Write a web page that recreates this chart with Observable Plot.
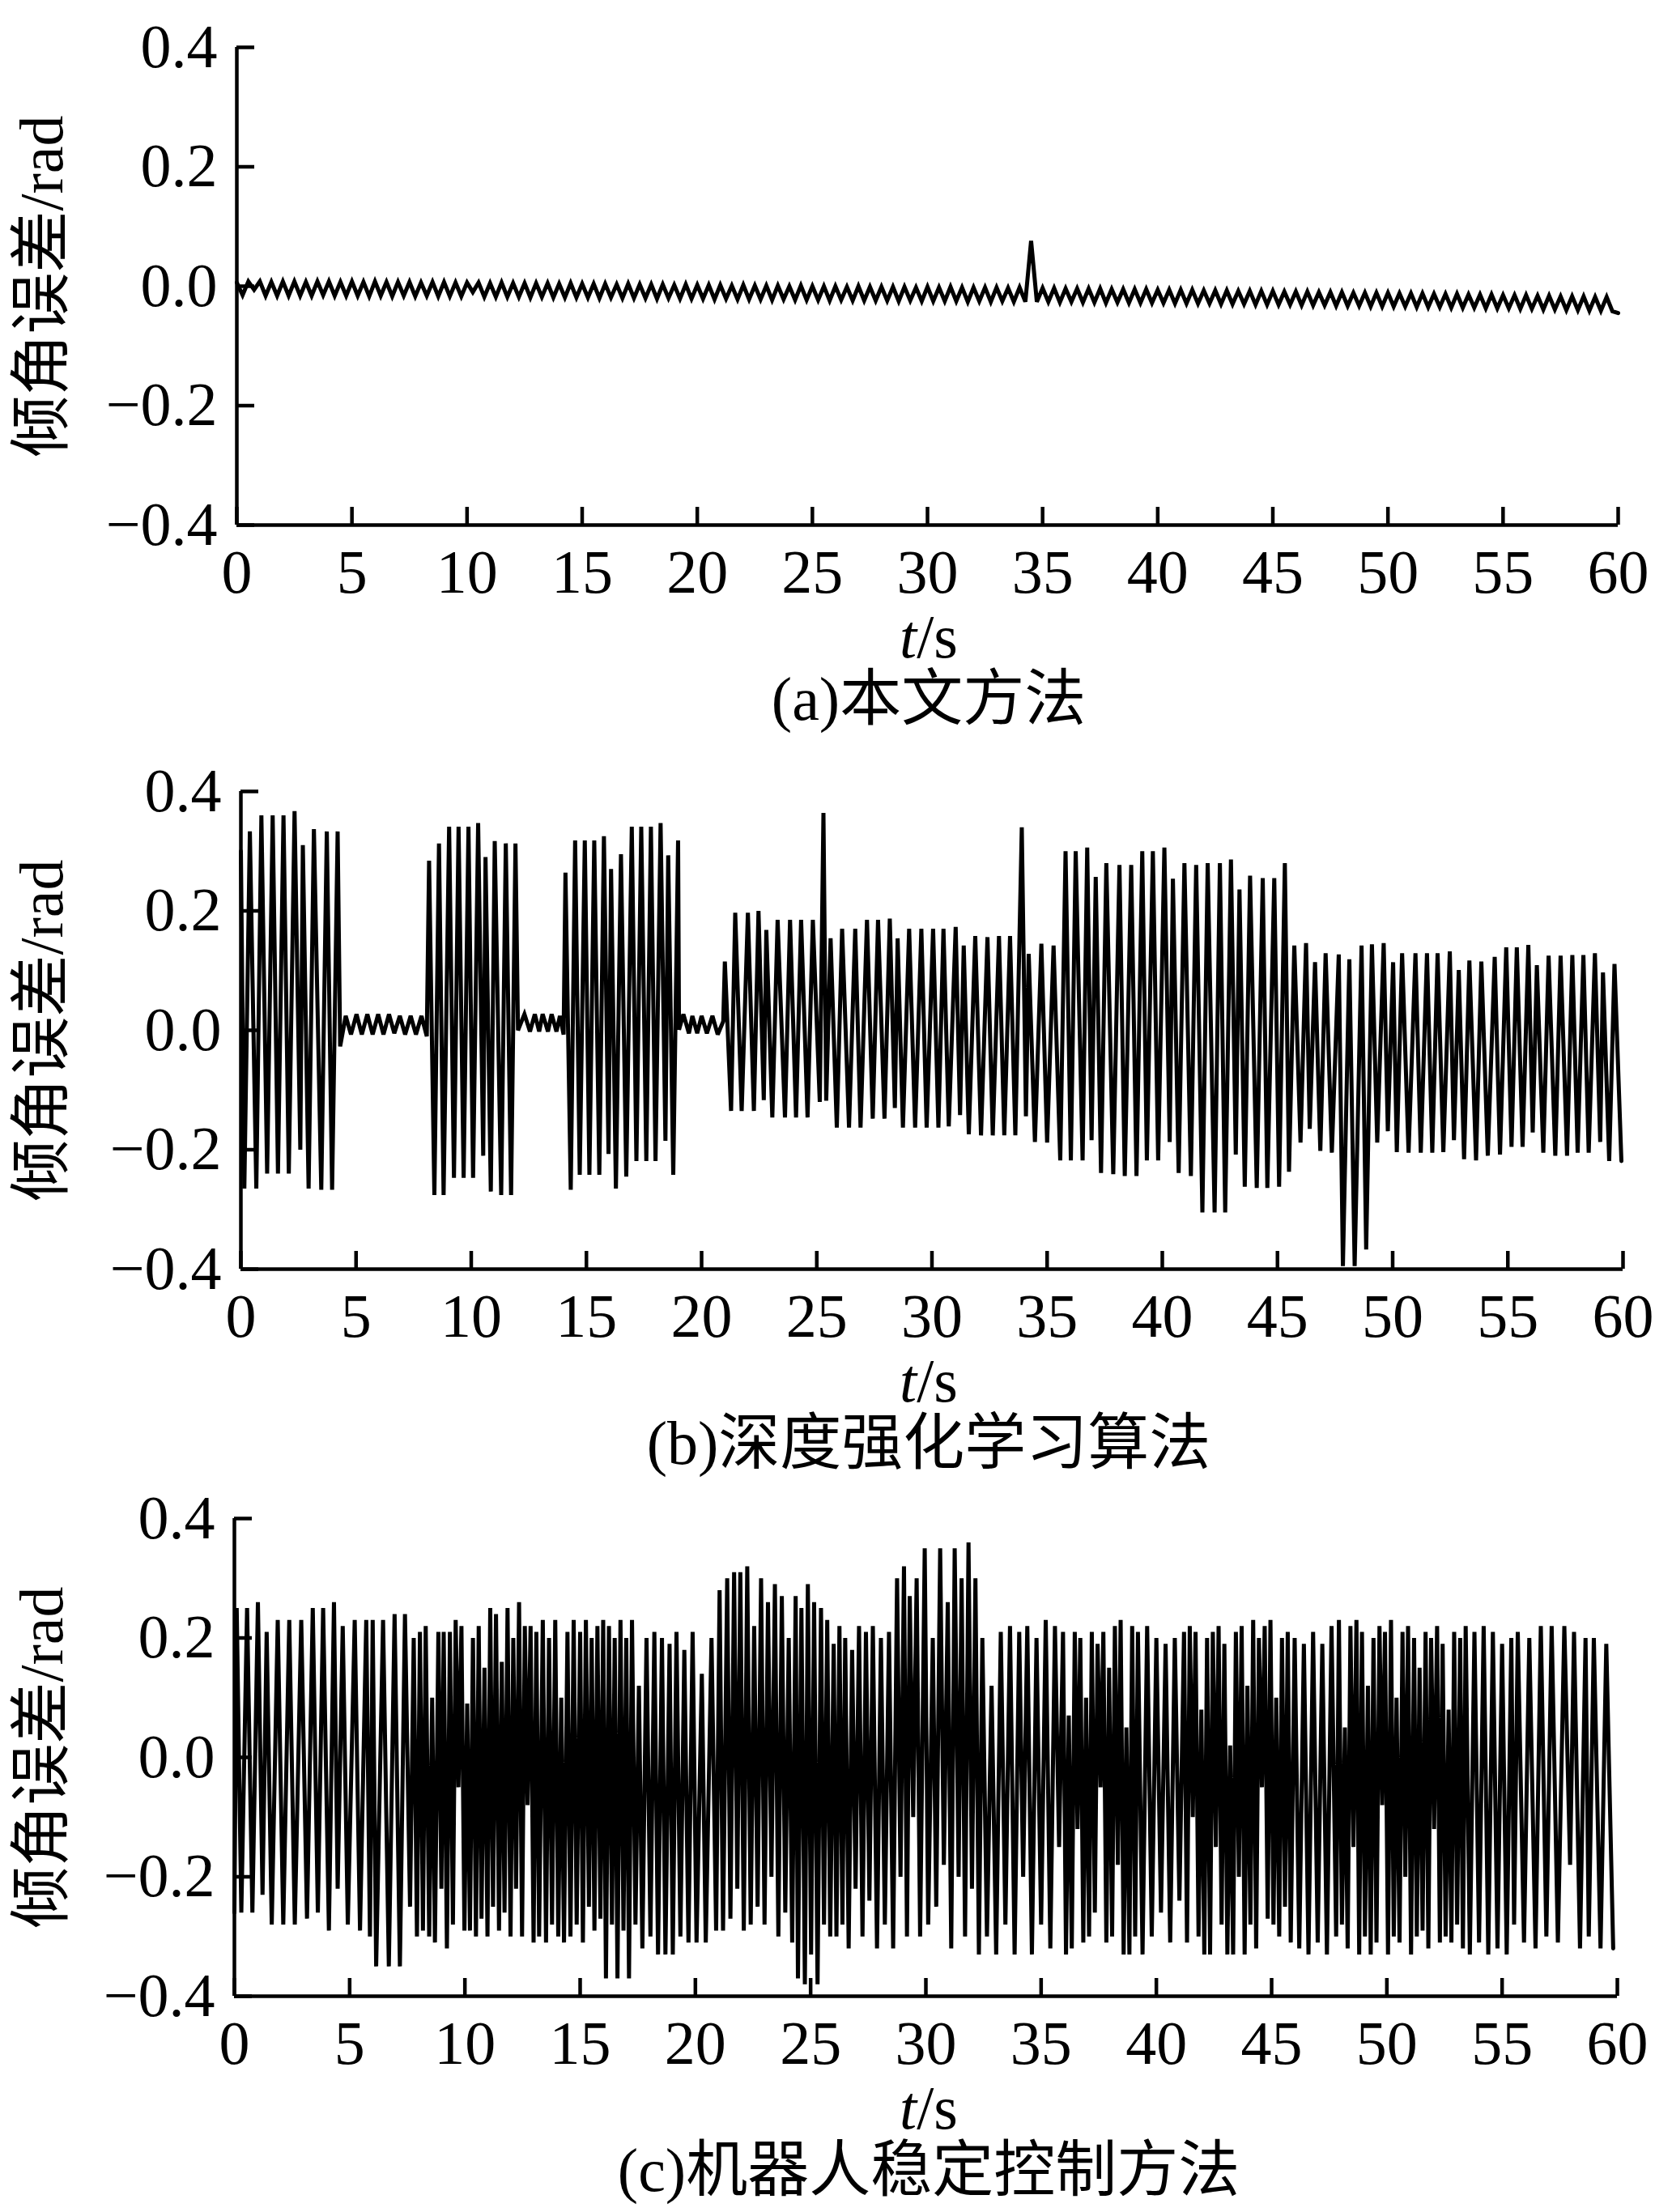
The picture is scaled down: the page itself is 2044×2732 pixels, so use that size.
<!DOCTYPE html>
<html>
<head>
<meta charset="utf-8">
<script src="https://cdn.jsdelivr.net/npm/d3@7"></script>
<script src="https://cdn.jsdelivr.net/npm/@observablehq/plot@0.6"></script>
<style>
html,body{margin:0;padding:0;background:#fff;overflow:hidden;}
#root{position:relative;width:2044px;height:2732px;background:#fff;overflow:hidden;}
.panel{position:absolute;left:0;width:2044px;}
.lab{position:absolute;left:1147px;transform:translateX(-50%);font-family:"Liberation Serif","Noto Sans CJK SC",serif;font-size:76px;line-height:76px;color:#000;white-space:nowrap;}
</style>
</head>
<body>
<div id="root"></div>
<script>
// ---------- tick labels / text ----------
const xTicks = [0, 5, 10, 15, 20, 25, 30, 35, 40, 45, 50, 55, 60];
const yTicks = [-0.4, -0.2, 0, 0.2, 0.4];
const yLabel = "倾角误差/rad";
const captions = ["(a)本文方法", "(b)深度强化学习算法", "(c)机器人稳定控制方法"];

// ---------- (a) 本文方法 : sampled every dtA seconds ----------
const dtA = 0.25;
const valuesA = [
  0.006,-0.015,0.008,-0.006,0.008,-0.016,0.007,-0.016,0.008,-0.016,
  0.008,-0.016,0.007,-0.016,0.008,-0.015,0.008,-0.016,0.007,-0.016,
  0.008,-0.016,0.007,-0.017,0.008,-0.016,0.007,-0.017,0.007,-0.016,
  0.007,-0.017,0.006,-0.016,0.007,-0.017,0.007,-0.017,0.006,-0.017,
  0.006,-0.010,0.006,-0.018,0.005,-0.018,0.006,-0.018,0.005,-0.018,
  0.005,-0.019,0.005,-0.018,0.005,-0.019,0.004,-0.019,0.005,-0.019,
  0.004,-0.019,0.004,-0.020,0.004,-0.019,0.003,-0.020,0.004,-0.020,
  0.003,-0.020,0.003,-0.021,0.003,-0.020,0.002,-0.021,0.003,-0.021,
  0.002,-0.021,0.002,-0.022,0.002,-0.021,0.001,-0.022,0.002,-0.022,
  0.001,-0.022,0.001,-0.023,0.001,-0.022,0.000,-0.023,0.001,-0.023,
  0.000,-0.023,0.000,-0.024,0.000,-0.023,-0.001,-0.024,0.000,-0.024,
  -0.001,-0.024,-0.001,-0.024,-0.001,-0.025,-0.001,-0.024,-0.002,-0.025,
  -0.001,-0.025,-0.002,-0.025,-0.001,-0.025,-0.002,-0.026,-0.002,-0.025,
  -0.002,-0.026,-0.002,-0.025,-0.003,-0.026,-0.002,-0.026,0.076,-0.026,
  -0.003,-0.026,-0.003,-0.027,-0.004,-0.026,-0.004,-0.027,-0.004,-0.027,
  -0.004,-0.028,-0.005,-0.027,-0.005,-0.028,-0.005,-0.028,-0.005,-0.028,
  -0.006,-0.028,-0.006,-0.029,-0.006,-0.029,-0.006,-0.029,-0.007,-0.029,
  -0.007,-0.030,-0.007,-0.030,-0.008,-0.030,-0.008,-0.031,-0.008,-0.031,
  -0.008,-0.031,-0.009,-0.031,-0.009,-0.032,-0.009,-0.032,-0.010,-0.032,
  -0.010,-0.033,-0.010,-0.033,-0.011,-0.033,-0.011,-0.034,-0.011,-0.034,
  -0.011,-0.034,-0.012,-0.034,-0.012,-0.035,-0.012,-0.035,-0.013,-0.035,
  -0.013,-0.036,-0.013,-0.036,-0.014,-0.036,-0.014,-0.037,-0.014,-0.037,
  -0.015,-0.037,-0.015,-0.038,-0.015,-0.038,-0.016,-0.039,-0.016,-0.039,
  -0.017,-0.040,-0.017,-0.040,-0.017,-0.041,-0.018,-0.041,-0.018,-0.042,
  -0.045
];

// ---------- (b) 深度强化学习算法 : [t, value] vertices ----------
const seriesB = [
  [0.00,0.30],[0.15,-0.265],[0.39,0.333],[0.67,-0.265],[0.89,0.36],[1.14,-0.24],[1.38,0.36],[1.61,-0.24],
  [1.85,0.36],[2.08,-0.24],[2.33,0.367],[2.58,-0.20],[2.69,0.31],[2.94,-0.265],[3.17,0.337],[3.49,-0.267],
  [3.73,0.333],[3.96,-0.267],[4.20,0.333],[4.31,-0.027],
  [4.55,0.024],[4.78,-0.007],[5.02,0.027],[5.25,-0.007],[5.49,0.027],[5.72,-0.007],[5.96,0.027],[6.19,-0.007],
  [6.43,0.027],[6.66,-0.005],[6.90,0.024],[7.13,-0.007],[7.37,0.024],[7.60,-0.007],[7.84,0.024],[8.07,-0.010],
  [8.17,0.284],[8.40,-0.276],[8.60,0.313],[8.80,-0.276],[9.04,0.341],[9.25,-0.247],[9.45,0.341],[9.67,-0.247],
  [9.88,0.341],[10.08,-0.247],[10.30,0.347],[10.52,-0.21],[10.62,0.29],[10.85,-0.27],[11.02,0.317],[11.30,-0.276],
  [11.50,0.313],[11.73,-0.276],[11.92,0.313],[12.03,0.0],
  [12.31,0.027],[12.55,-0.002],[12.76,0.027],[12.95,-0.002],[13.10,0.027],[13.33,-0.002],[13.49,0.027],[13.70,-0.002],
  [13.85,0.024],[14.01,-0.007],
  [14.09,0.264],[14.32,-0.267],[14.51,0.318],[14.71,-0.242],[14.93,0.318],[15.13,-0.242],[15.34,0.318],[15.56,-0.242],
  [15.76,0.325],[15.96,-0.207],[16.07,0.27],[16.28,-0.265],[16.50,0.295],[16.73,-0.245],[16.97,0.341],[17.17,-0.219],
  [17.38,0.341],[17.60,-0.219],[17.80,0.341],[18.00,-0.219],[18.22,0.347],[18.43,-0.185],[18.55,0.293],[18.77,-0.242],
  [18.98,0.318],[19.02,0.001],
  [19.21,0.027],[19.45,-0.005],[19.60,0.024],[19.81,-0.005],[20.00,0.024],[20.23,-0.005],[20.47,0.024],[20.70,-0.007],
  [20.94,0.015],
  [21.01,0.115],[21.28,-0.135],[21.46,0.197],[21.74,-0.135],[22.01,0.197],[22.27,-0.135],[22.47,0.20],[22.70,-0.117],
  [22.81,0.168],[23.07,-0.146],[23.30,0.185],[23.62,-0.146],[23.84,0.185],[24.10,-0.146],[24.32,0.185],[24.60,-0.146],
  [24.83,0.185],[25.13,-0.12],[25.29,0.364],[25.41,-0.118],
  [25.60,0.154],[25.87,-0.163],[26.10,0.170],[26.40,-0.163],[26.67,0.170],[26.90,-0.163],[27.18,0.185],[27.43,-0.148],
  [27.66,0.185],[27.94,-0.148],[28.17,0.187],[28.39,-0.130],[28.51,0.154],[28.74,-0.163],[29.01,0.170],[29.27,-0.163],
  [29.54,0.170],[29.77,-0.163],[30.05,0.170],[30.28,-0.163],[30.50,0.170],[30.73,-0.161],[31.03,0.173],[31.22,-0.142],
  [31.38,0.142],[31.60,-0.174],[31.88,0.158],[32.13,-0.176],[32.41,0.156],[32.64,-0.176],[32.91,0.158],[33.14,-0.176],
  [33.39,0.158],[33.62,-0.176],[33.90,0.340],[34.08,-0.144],[34.20,0.128],[34.47,-0.187],[34.75,0.145],[35.00,-0.188],
  [35.28,0.142],[35.57,-0.218],[35.80,0.300],[36.03,-0.218],[36.24,0.300],[36.54,-0.218],[36.74,0.306],[36.93,-0.184],
  [37.11,0.257],[37.34,-0.239],[37.57,0.280],[37.87,-0.241],[38.14,0.277],[38.37,-0.244],[38.65,0.277],[38.88,-0.244],
  [39.13,0.300],[39.33,-0.218],[39.59,0.300],[39.82,-0.218],[40.09,0.306],[40.32,-0.187],[40.46,0.254],[40.71,-0.239],
  [40.96,0.280],[41.24,-0.244],[41.47,0.277],[41.74,-0.305],[41.97,0.280],[42.27,-0.305],[42.50,0.280],[42.73,-0.305],
  [42.98,0.286],[43.19,-0.208],[43.35,0.236],[43.58,-0.262],[43.81,0.259],[44.10,-0.264],[44.36,0.255],[44.56,-0.264],
  [44.86,0.255],[45.07,-0.262],[45.32,0.280],[45.50,-0.237],[45.73,0.142],[46.00,-0.188],[46.24,0.146],[46.40,-0.165],
  [46.63,0.114],[46.86,-0.202],[47.09,0.129],[47.36,-0.205],[47.66,0.127],[47.84,-0.395],[48.12,0.119],[48.35,-0.395],
  [48.65,0.142],[48.85,-0.367],[49.10,0.144],[49.33,-0.188],[49.61,0.146],[49.79,-0.169],[50.02,0.114],[50.18,-0.204],
  [50.41,0.129],[50.69,-0.205],[50.99,0.129],[51.22,-0.205],[51.49,0.129],[51.72,-0.205],[51.95,0.129],[52.20,-0.204],
  [52.48,0.132],[52.66,-0.184],[52.87,0.101],[53.10,-0.216],[53.33,0.117],[53.62,-0.218],[53.85,0.115],[54.13,-0.210],
  [54.43,0.123],[54.66,-0.208],[54.93,0.139],[55.16,-0.195],[55.39,0.139],[55.64,-0.195],[55.89,0.143],[56.08,-0.171],
  [56.26,0.109],[56.54,-0.205],[56.77,0.125],[57.06,-0.210],[57.29,0.125],[57.57,-0.210],[57.80,0.126],[58.03,-0.205],
  [58.28,0.126],[58.51,-0.205],[58.78,0.129],[59.01,-0.187],[59.13,0.097],[59.40,-0.219],[59.63,0.111],[59.93,-0.219]
];

// ---------- (c) 机器人稳定控制方法 : [t, value] vertices ----------
const seriesC = [
  [0.00,-0.26],[0.10,0.25],[0.30,-0.26],[0.55,0.25],[0.78,-0.26],[1.02,0.26],[1.22,-0.23],[1.40,0.21],
  [1.62,-0.28],[1.88,0.23],[2.12,-0.28],[2.38,0.23],[2.62,-0.28],[2.90,0.23],[3.15,-0.27],[3.40,0.25],
  [3.62,-0.26],[3.85,0.25],[4.10,-0.29],[4.32,0.26],[4.48,-0.22],[4.70,0.22],[4.92,-0.28],[5.22,0.23],
  [5.45,-0.29],[5.72,0.23],[5.88,-0.30],[6.00,0.23],[6.15,-0.35],[6.45,0.23],[6.70,-0.35],[6.95,0.24],
  [7.18,-0.35],[7.40,0.24],[7.62,-0.25],
  [7.78,0.20],[7.92,-0.30],[8.05,0.21],[8.18,-0.29],[8.30,0.22],[8.45,-0.30],[8.58,0.10],[8.70,-0.31],
  [8.85,0.21],[8.98,-0.22],[9.08,0.21],[9.22,-0.32],[9.35,0.21],[9.48,-0.28],[9.60,0.23],[9.72,-0.05],
  [9.85,0.22],[9.98,-0.29],[10.10,0.09],[10.22,-0.29],[10.35,0.20],[10.48,-0.30],[10.60,0.22],[10.72,-0.27],
  [10.85,0.15],[10.98,-0.30],[11.10,0.25],[11.22,-0.25],[11.35,0.24],[11.48,-0.29],[11.60,0.16],[11.72,-0.26],
  [11.85,0.25],[11.98,-0.30],[12.10,0.20],[12.22,-0.22],[12.35,0.26],[12.48,-0.30],[12.60,0.22],[12.72,-0.08],
  [12.85,0.22],[12.98,-0.31],[13.10,0.21],[13.22,-0.30],[13.38,0.23],[13.52,-0.31],[13.65,0.20],[13.78,-0.28],
  [13.92,0.23],[14.05,-0.30],[14.18,0.10],[14.30,-0.31],[14.45,0.21],[14.58,-0.30],[14.72,0.23],[14.85,-0.28],
  [15.00,0.21],[15.12,-0.31],[15.25,0.23],[15.38,-0.25],[15.50,0.20],[15.62,-0.29],[15.75,0.22],[15.88,-0.27],
  [16.00,0.23],[16.12,-0.37],[16.25,0.22],[16.38,-0.28],[16.50,0.20],[16.62,-0.37],[16.75,0.23],[16.88,-0.29],
  [17.00,0.20],[17.12,-0.37],[17.25,0.23],[17.40,-0.28],[17.55,0.12],
  [17.70,-0.32],[17.88,0.20],[18.05,-0.30],[18.22,0.21],[18.38,-0.33],[18.55,0.20],[18.70,-0.33],[18.88,0.19],
  [19.02,-0.33],[19.18,0.21],[19.35,-0.30],[19.52,0.18],[19.70,-0.31],[19.88,0.21],[20.05,-0.31],[20.28,0.14],
  [20.45,-0.31],[20.70,0.20],[20.90,-0.29],
  [21.05,0.28],[21.20,-0.29],[21.38,0.30],[21.52,-0.27],[21.68,0.31],[21.82,-0.22],[21.95,0.31],[22.10,-0.29],
  [22.25,0.32],[22.40,-0.28],[22.55,0.22],[22.70,-0.25],[22.85,0.30],[23.00,-0.28],[23.15,0.26],[23.30,-0.20],
  [23.45,0.29],[23.60,-0.30],[23.75,0.27],[23.90,-0.26],[24.05,0.20],[24.20,-0.31],[24.35,0.27],[24.45,-0.37],
  [24.60,0.25],[24.75,-0.38],[24.88,0.29],[25.02,-0.33],[25.15,0.26],[25.30,-0.38],[25.45,0.25],[25.58,-0.28],
  [25.72,0.23],[25.85,-0.30],[26.00,0.19],[26.12,-0.30],[26.25,0.22],[26.38,-0.28],[26.50,0.20],[26.65,-0.32],
  [26.80,0.18],[26.95,-0.22],[27.10,0.22],[27.25,-0.30],[27.40,0.21],[27.55,-0.24],[27.70,0.22],[27.88,-0.32],
  [28.05,0.20],[28.22,-0.28],[28.40,0.21],[28.58,-0.32],
  [28.75,0.30],[28.90,-0.20],[29.05,0.32],[29.18,-0.30],[29.30,0.27],[29.45,-0.10],[29.60,0.30],[29.75,-0.30],
  [29.95,0.35],[30.10,-0.28],[30.30,0.20],[30.45,-0.25],[30.62,0.35],[30.78,-0.18],[30.95,0.26],[31.10,-0.32],
  [31.25,0.35],[31.42,-0.20],[31.55,0.30],[31.70,-0.30],[31.85,0.36],[32.00,-0.22],[32.15,0.30],[32.30,-0.33],
  [32.45,0.20],[32.65,-0.30],[32.85,0.12],[33.05,-0.33],[33.25,0.21],[33.45,-0.28],[33.65,0.22],[33.85,-0.33],
  [34.05,0.21],[34.22,-0.20],[34.40,0.22],[34.60,-0.33],[34.80,0.20],[35.00,-0.28],[35.20,0.23],[35.40,-0.32],
  [35.60,0.22],[35.78,-0.15],[35.95,0.21],
  [36.08,-0.33],[36.20,0.07],[36.33,-0.32],[36.46,0.21],[36.58,-0.12],[36.70,0.20],[36.83,-0.31],[36.95,0.10],
  [37.08,-0.30],[37.20,0.21],[37.33,-0.26],[37.45,0.19],[37.58,-0.05],[37.70,0.21],[37.83,-0.31],[37.95,0.15],
  [38.08,-0.30],[38.20,0.22],[38.33,-0.18],[38.45,0.23],[38.58,-0.33],[38.70,0.05],[38.83,-0.33],[38.95,0.22],
  [39.08,-0.30],[39.20,0.21],
  [39.40,-0.33],[39.60,0.22],[39.80,-0.30],[40.00,0.20],[40.20,-0.26],[40.40,0.19],[40.60,-0.31],[40.80,0.20],
  [41.00,-0.24],[41.20,0.21],
  [41.33,-0.31],[41.45,0.22],[41.58,-0.10],[41.70,0.21],[41.83,-0.30],[41.95,0.08],[42.08,-0.33],[42.20,0.20],
  [42.33,-0.33],[42.45,0.21],[42.58,-0.15],[42.70,0.22],[42.83,-0.28],[42.95,0.19],[43.08,-0.33],[43.20,0.02],
  [43.33,-0.33],[43.45,0.21],[43.58,-0.20],[43.70,0.22],[43.83,-0.33],[43.95,0.12],[44.08,-0.28],[44.20,0.23],
  [44.33,-0.32],[44.45,0.20],[44.58,-0.05],[44.70,0.22],[44.83,-0.27],[44.95,0.23],[45.08,-0.28],[45.20,0.10],
  [45.33,-0.30],[45.45,0.20],[45.58,-0.25],[45.70,0.21],[45.83,-0.31],
  [46.00,0.20],[46.20,-0.32],[46.40,0.19],[46.60,-0.33],[46.80,0.21],[47.00,-0.31],[47.20,0.19],[47.40,-0.33],
  [47.60,0.22],
  [47.80,-0.30],[47.92,0.23],[48.05,-0.28],[48.18,0.05],[48.30,-0.32],[48.42,0.22],[48.55,-0.15],[48.68,0.23],
  [48.80,-0.33],[48.92,0.21],[49.05,-0.30],[49.18,0.12],[49.30,-0.33],[49.42,0.20],[49.55,-0.31],[49.68,0.22],
  [49.80,-0.08],[49.92,0.21],[50.05,-0.33],[50.18,0.23],[50.30,-0.30],[50.42,0.10],[50.55,-0.31],[50.68,0.21],
  [50.80,-0.20],[50.92,0.22],[51.05,-0.33],[51.18,0.20],[51.30,-0.30],[51.42,0.15],[51.55,-0.29],[51.68,0.21],
  [51.80,-0.32],[51.92,0.20],[52.05,-0.12],[52.18,0.22],[52.30,-0.31],[52.42,0.19],[52.55,-0.30],[52.68,0.08],
  [52.80,-0.31],[52.92,0.21],[53.05,-0.28],[53.18,0.20],[53.30,-0.32],[53.42,0.22],
  [53.60,-0.33],[53.80,0.21],[54.00,-0.31],[54.20,0.22],[54.40,-0.33],[54.60,0.21],[54.80,-0.32],[55.00,0.19],
  [55.20,-0.33],[55.40,0.20],[55.52,-0.28],
  [55.68,0.21],[55.95,-0.31],[56.18,0.20],[56.45,-0.32],[56.68,0.22],[56.92,-0.30],[57.15,0.22],[57.42,-0.31],
  [57.70,0.22],[57.95,-0.18],[58.12,0.21],[58.38,-0.32],[58.62,0.20],[58.76,-0.30],[58.98,0.20],[59.27,-0.32],
  [59.52,0.19],[59.82,-0.32]
];

// ---------- build tables ----------
const dataA = valuesA.map((v, i) => ({t: i * dtA, v}));
const dataB = seriesB.map(([t, v]) => ({t, v}));
const dataC = seriesC.map(([t, v]) => ({t, v}));

const FONT = "'Liberation Serif', 'Noto Sans CJK SC', serif";
const root = document.getElementById("root");

const panels = [
  {data: dataA, top: 0,    ml: 292, mr: 46},
  {data: dataB, top: 919,  ml: 297, mr: 40},
  {data: dataC, top: 1817, ml: 289, mr: 47}
];

panels.forEach((p, k) => {
  const chart = Plot.plot({
    width: 2044,
    height: 730,
    marginTop: 58,
    marginBottom: 82,
    marginLeft: p.ml,
    marginRight: p.mr,
    x: {domain: [0, 60]},
    y: {domain: [-0.4, 0.4]},
    style: {fontFamily: FONT, fontSize: "76px", background: "transparent", overflow: "visible", color: "#000"},
    marks: [
      Plot.line(p.data, {x: "t", y: "v", stroke: "#000", strokeWidth: 5, strokeLinejoin: "miter", strokeMiterlimit: 3, curve: "linear"}),
      Plot.ruleX([0], {stroke: "#000", strokeWidth: 4.5}),
      Plot.ruleY([-0.4], {stroke: "#000", strokeWidth: 4.5}),
      Plot.axisX({ticks: xTicks, tickSize: -22, tickPadding: 52, strokeWidth: 4.5, tickFormat: d => String(d), label: null}),
      Plot.axisY({ticks: yTicks, tickSize: -22, tickPadding: 46, strokeWidth: 4.5, tickFormat: d3.format(".1f"), label: null}),
      Plot.text([yLabel], {frameAnchor: "left", dx: 52 - p.ml, rotate: -90, textAnchor: "middle", lineAnchor: "middle", text: d => d, fontSize: 76, fill: "#000"})
    ]
  });
  const wrap = document.createElement("div");
  wrap.className = "panel";
  wrap.style.top = p.top + "px";
  wrap.appendChild(chart);
  root.appendChild(wrap);

  const xl = document.createElement("div");
  xl.className = "lab";
  xl.style.top = (p.top + 748) + "px";
  xl.innerHTML = "<i>t</i>/s";
  root.appendChild(xl);

  const cap = document.createElement("div");
  cap.className = "lab";
  cap.style.top = (p.top + 825) + "px";
  cap.textContent = captions[k];
  root.appendChild(cap);
});
</script>
</body>
</html>
